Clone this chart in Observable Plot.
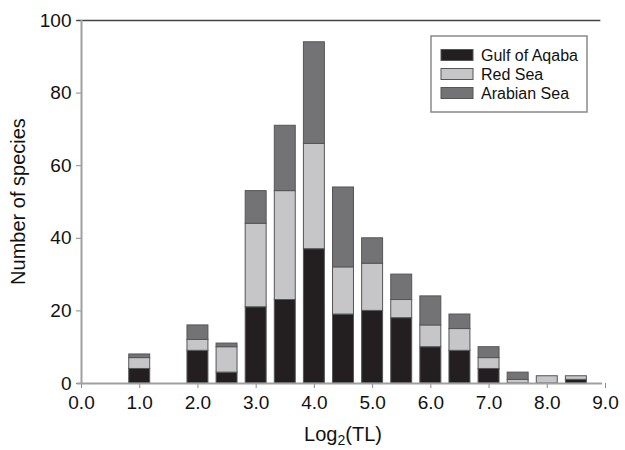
<!DOCTYPE html>
<html><head><meta charset="utf-8">
<script src="https://cdn.jsdelivr.net/npm/d3@7"></script>
<script src="https://cdn.jsdelivr.net/npm/@observablehq/plot@0.6"></script>
<style>body{margin:0;background:#fff}#chart{width:625px;height:450px}</style>
</head><body><div id="chart"></div>
<script>
// Bin centres of log2(total length)
const bins = [1.0, 2.0, 2.5, 3.0, 3.5, 4.0, 4.5, 5.0, 5.5, 6.0, 6.5, 7.0, 7.5, 8.0, 8.5];
const seriesNames = ["Gulf of Aqaba", "Red Sea", "Arabian Sea"];
const gulf    = [4, 9, 3, 21, 23, 37, 19, 20, 18, 10, 9, 4, 0, 0, 1];
const redSea  = [3, 3, 7, 23, 30, 29, 13, 13, 5, 6, 6, 3, 1, 2, 1];
const arabian = [1, 4, 1, 9, 18, 28, 22, 7, 7, 8, 4, 3, 2, 0, 0];
const seriesColors = ["#231f20", "#c6c6c8", "#737376"];
const yTicks = [0, 20, 40, 60, 80, 100];
const xTicks = [0, 1, 2, 3, 4, 5, 6, 7, 8, 9];
const halfBar = 0.18;

const rows = [];
[gulf, redSea, arabian].forEach((vals, i) =>
  vals.forEach((v, j) => { if (v > 0) rows.push({t: bins[j], n: v, series: seriesNames[i]}); })
);

const font = "'Liberation Sans', Arial, sans-serif";
const plot = Plot.plot({
  width: 625, height: 450,
  marginLeft: 81, marginRight: 20, marginTop: 20, marginBottom: 67,
  style: {fontFamily: font, fontSize: "19px", color: "#111", background: "#fff"},
  x: {domain: [0, 9], ticks: xTicks, tickFormat: d3.format(".1f"), tickSize: 5, tickPadding: 7, label: null},
  y: {domain: [0, 100], ticks: yTicks, tickSize: 5, tickPadding: 5, label: null},
  color: {domain: seriesNames, range: seriesColors},
  marks: [
    Plot.rectY(rows, {
      x1: d => d.t - halfBar, x2: d => d.t + halfBar,
      y: "n", fill: "series", stroke: "#555558", strokeWidth: 1
    }),
    Plot.ruleY([100], {x1: -0.08, x2: 8.92, stroke: "#444", strokeWidth: 1.3}),
    Plot.ruleX([0], {stroke: "#a0a0a2", strokeWidth: 2}),
    Plot.ruleY([0], {x1: -0.07, x2: 8.95, stroke: "#a0a0a2", strokeWidth: 2})
  ]
});
document.getElementById("chart").appendChild(plot);

const svg = d3.select(plot);
svg.selectAll('[aria-label$="tick"] path, .tick line').attr("stroke", "#888");

const xs = plot.scale("x"), ys = plot.scale("y");
// y-axis title
svg.append("text")
  .attr("transform", `translate(20,${(ys.apply(0) + ys.apply(100)) / 2}) rotate(-90)`)
  .attr("text-anchor", "middle").attr("dominant-baseline", "middle")
  .attr("font-family", font).attr("font-size", 20).attr("fill", "#111")
  .text("Number of species");
// x-axis title with subscript
const xt = svg.append("text")
  .attr("x", (xs.apply(0) + xs.apply(9)) / 2).attr("y", 441)
  .attr("text-anchor", "middle")
  .attr("font-family", font).attr("font-size", 20).attr("fill", "#111");
xt.append("tspan").text("Log");
xt.append("tspan").attr("font-size", 14).attr("dy", 4).text("2");
xt.append("tspan").attr("dy", -4).text("(TL)");

// legend
const lg = svg.append("g").attr("text-anchor", "start");
lg.append("rect").attr("x", 431).attr("y", 36).attr("width", 156).attr("height", 76)
  .attr("fill", "#fff").attr("stroke", "#8a8a8a").attr("stroke-width", 1.5);
seriesNames.forEach((name, i) => {
  const cy = 55 + i * 19;
  lg.append("rect").attr("x", 441).attr("y", cy - 5.5).attr("width", 32).attr("height", 11)
    .attr("fill", seriesColors[i]).attr("stroke", "#555558");
  lg.append("text").attr("x", 481).attr("y", cy + 5.5).attr("text-anchor", "start")
    .attr("font-family", font).attr("font-size", 16).attr("fill", "#111").text(name);
});
</script>
</body></html>
